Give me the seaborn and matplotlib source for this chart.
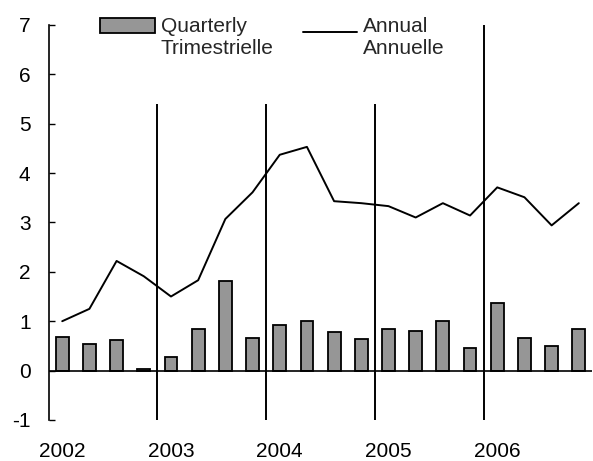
import numpy as np
import pandas as pd
import matplotlib
matplotlib.use('Agg')
import matplotlib.pyplot as plt
from matplotlib.patches import Patch
from matplotlib.lines import Line2D
from matplotlib.legend_handler import HandlerPatch, HandlerLine2D
import seaborn as sns

# quarterly and annual growth rates, 2002Q1 - 2006Q4
quarters = ['2002Q1', '2002Q2', '2002Q3', '2002Q4',
            '2003Q1', '2003Q2', '2003Q3', '2003Q4',
            '2004Q1', '2004Q2', '2004Q3', '2004Q4',
            '2005Q1', '2005Q2', '2005Q3', '2005Q4',
            '2006Q1', '2006Q2', '2006Q3', '2006Q4']
quarterly = [0.69, 0.53, 0.61, 0.04,
             0.28, 0.85, 1.82, 0.65,
             0.93, 1.01, 0.78, 0.64,
             0.85, 0.81, 1.01, 0.45,
             1.37, 0.65, 0.49, 0.85]
annual = [1.00, 1.25, 2.22, 1.91,
          1.50, 1.83, 3.07, 3.61,
          4.37, 4.53, 3.43, 3.39,
          3.33, 3.10, 3.39, 3.14,
          3.71, 3.51, 2.94, 3.39]
years = ['2002', '2003', '2004', '2005', '2006']
divider_tops = [5.4, 5.4, 5.4, 7]

df = pd.DataFrame({'quarter': quarters, 'quarterly': quarterly, 'annual': annual})
df['pos'] = np.arange(len(df))

sns.set_theme(style='white')
plt.rcParams['font.family'] = ['Liberation Sans', 'DejaVu Sans']
plt.rcParams['axes.unicode_minus'] = False
FS = 15

fig = plt.figure(figsize=(5.93, 4.61), dpi=100)
ax = fig.add_axes([0.082, 0.089, 0.917, 0.857])

sns.barplot(data=df, x='quarter', y='quarterly', color='#969696', saturation=1,
            edgecolor='black', linewidth=1.3, width=0.47, ax=ax)
ax.plot(df['pos'], df['annual'], color='black', lw=1.4)

# year dividers
ax.axhline(0, color='black', lw=1.2)
ax.vlines(np.arange(1, len(years)) * 4 - 0.5, -1, divider_tops, color='black', lw=1.4)

ax.set_xlim(-0.5, len(quarters) - 0.5)
ax.set_ylim(-1, 7)
ax.set_yticks(range(-1, 8))
ax.set_xticks(np.arange(len(years)) * 4)
ax.set_xticklabels(years)
ax.set_xlabel('')
ax.set_ylabel('')
ax.tick_params(axis='x', length=0, pad=16, labelsize=FS, colors='black')
ax.tick_params(axis='y', direction='in', length=4, width=1, pad=13, labelsize=FS,
               colors='black', left=True)
for s in ['top', 'right', 'bottom']:
    ax.spines[s].set_visible(False)
ax.spines['left'].set_color('black')
ax.spines['left'].set_linewidth(1.2)


class UpPatch(HandlerPatch):
    def create_artists(self, legend, orig_handle, xdescent, ydescent, width, height, fontsize, trans):
        return super().create_artists(legend, orig_handle, xdescent, ydescent - 0.6 * fontsize,
                                      width, height, fontsize, trans)


class UpLine(HandlerLine2D):
    def create_artists(self, legend, orig_handle, xdescent, ydescent, width, height, fontsize, trans):
        return super().create_artists(legend, orig_handle, xdescent, ydescent - 0.6 * fontsize,
                                      width, height, fontsize, trans)


bar_h = Patch(facecolor='#969696', edgecolor='black', linewidth=1.3)
line_h = Line2D([], [], color='black', lw=1.4)
ax.legend([bar_h, line_h], ['Quarterly\nTrimestrielle', 'Annual\nAnnuelle'],
          handler_map={Patch: UpPatch(), Line2D: UpLine()},
          ncol=2, frameon=False, fontsize=FS, handlelength=2.6, handleheight=0.75,
          handletextpad=0.3, columnspacing=1.4, loc='upper left',
          bbox_to_anchor=(0.08, 1.04), borderaxespad=0)

fig.savefig('out.png', dpi=100)
